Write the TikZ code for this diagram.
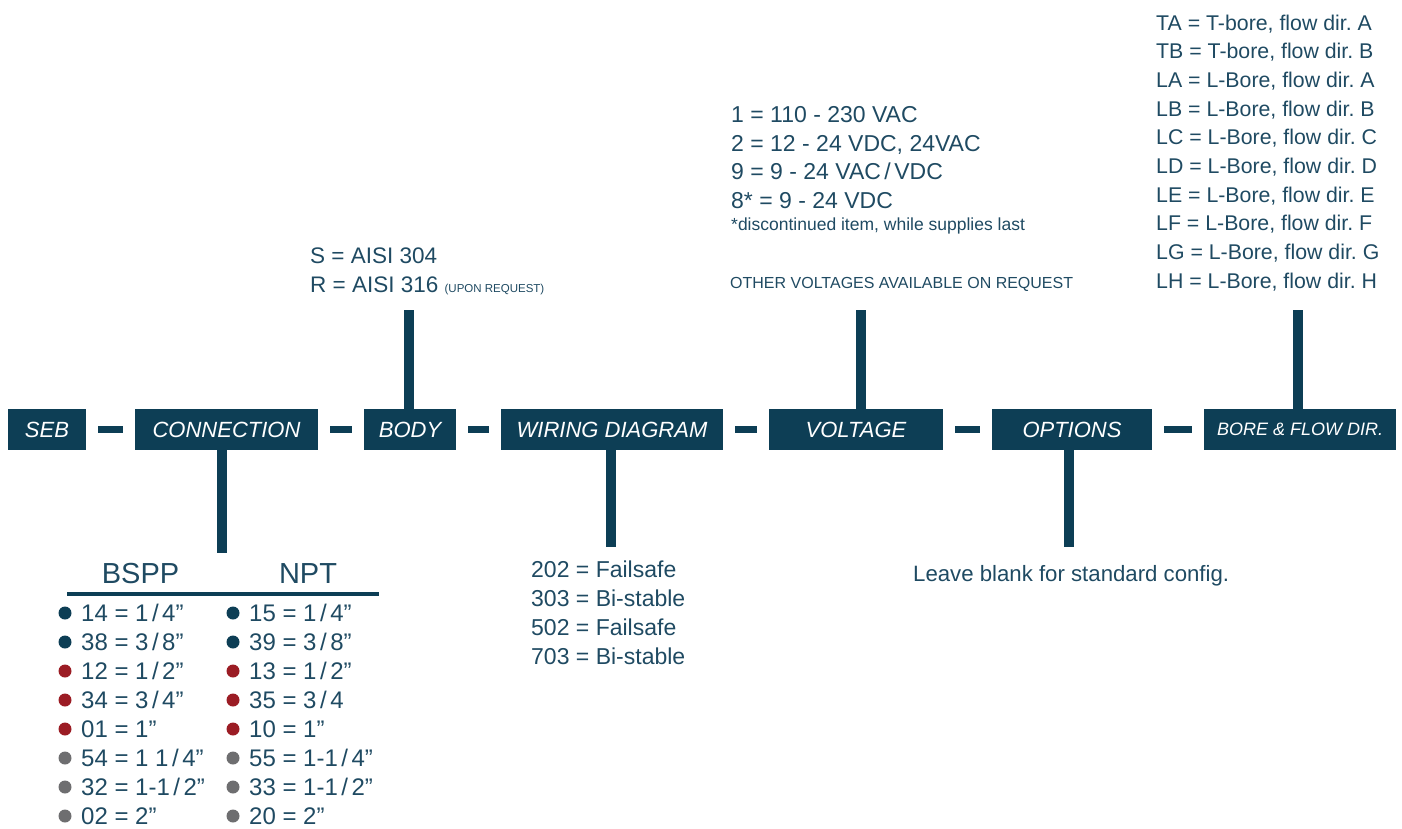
\documentclass[tikz,border=0pt]{standalone}
\usepackage{fontspec}
\setmainfont{Liberation Sans}
\definecolor{navy}{HTML}{0D3E55}
\definecolor{txt}{HTML}{1F4A62}
\definecolor{dotred}{HTML}{9B1C24}
\definecolor{dotgray}{HTML}{6E6E70}
\newcommand{\fsl}{\kern3.5pt/\kern3.5pt}
\frenchspacing
\begin{document}
\begin{tikzpicture}[x=1pt,y=-1pt,
  box/.style={fill=navy,text=white,inner sep=0pt,minimum height=41pt,
    font=\fontsize{22}{22}\selectfont\itshape},
  smallbox/.style={box,font=\fontsize{18}{18}\selectfont\itshape},
  link/.style={draw=navy,line width=7pt,shorten >=12pt,shorten <=12pt},
  stem/.style={draw=navy,line width=10pt},
  lbl/.style={anchor=base west,inner sep=0pt,text=txt,font=\fontsize{22.5}{22.5}\selectfont},
  vlbl/.style={lbl,font=\fontsize{23}{23}\selectfont},
  tlbl/.style={lbl,font=\fontsize{24}{24}\selectfont},
  bore/.style={lbl,font=\fontsize{21.3}{21.3}\selectfont},
  head/.style={anchor=base,inner sep=0pt,text=txt,font=\fontsize{29}{29}\selectfont},
  bullet/.style={circle,inner sep=0pt,outer sep=0pt,minimum size=13pt},
]
\useasboundingbox (0,0) rectangle (1402,828);

% main row of boxes
\node[box,minimum width=78pt]  (seb)  at (47,429.5)   {SEB};
\node[box,minimum width=183pt] (conn) at (226.5,429.5) {CONNECTION};
\node[box,minimum width=92pt]  (body) at (410,429.5)   {BODY};
\node[box,minimum width=222pt] (wire) at (612,429.5)   {WIRING DIAGRAM};
\node[box,minimum width=174pt] (volt) at (856,429.5)   {VOLTAGE};
\node[box,minimum width=160pt] (opt)  at (1072,429.5)  {OPTIONS};
\node[smallbox,minimum width=192pt] (bore) at (1300,429.5) {BORE \& FLOW DIR.};

\draw[link] (seb.east) -- (conn.west);
\draw[link] (conn.east) -- (body.west);
\draw[link] (body.east) -- (wire.west);
\draw[link] (wire.east) -- (volt.west);
\draw[link] (volt.east) -- (opt.west);
\draw[link] (opt.east) -- (bore.west);

% stems
\coordinate (connend) at (221.5,553);
\coordinate (bodyend) at (409,310);
\coordinate (wireend) at (611,547);
\coordinate (voltend) at (861,310);
\coordinate (optend)  at (1069,547);
\coordinate (boreend) at (1298,310);
\draw[stem] (connend |- conn.south) -- (connend);
\draw[stem] (bodyend |- body.north) -- (bodyend);
\draw[stem] (wireend |- wire.south) -- (wireend);
\draw[stem] (voltend |- volt.north) -- (voltend);
\draw[stem] (optend |- opt.south) -- (optend);
\draw[stem] (boreend |- bore.north) -- (boreend);

% BODY options
\node[lbl] (b1) at (310,263) {S = AISI 304};
\node[lbl] (b2) at (310,292) {R = AISI 316 {\fontsize{11.5}{11.5}\selectfont(UPON REQUEST)}};

% VOLTAGE options
\node[vlbl] (v1) at (731,122.3) {1 = 110 - 230 VAC};
\node[vlbl] (v2) at (731,151) {2 = 12 - 24 VDC, 24VAC};
\node[vlbl] (v3) at (731,179.6) {9 = 9 - 24 VAC\fsl VDC};
\node[vlbl] (v4) at (731,208.3) {8* = 9 - 24 VDC};
\node[lbl,font=\fontsize{17.5}{17.5}\selectfont] (v5) at (731,230) {*discontinued item, while supplies last};
\node[lbl,font=\fontsize{16}{16}\selectfont] (v6) at (730,288.3) {OTHER VOLTAGES AVAILABLE ON REQUEST};

% BORE options
\node[bore] (r1)  at (1156,30)    {TA = T-bore, flow dir. A};
\node[bore] (r2)  at (1156,58.7)  {TB = T-bore, flow dir. B};
\node[bore] (r3)  at (1156,87.3)  {LA = L-Bore, flow dir. A};
\node[bore] (r4)  at (1156,116)   {LB = L-Bore, flow dir. B};
\node[bore] (r5)  at (1156,144.7) {LC = L-Bore, flow dir. C};
\node[bore] (r6)  at (1156,173.3) {LD = L-Bore, flow dir. D};
\node[bore] (r7)  at (1156,202)   {LE = L-Bore, flow dir. E};
\node[bore] (r8)  at (1156,230.7) {LF = L-Bore, flow dir. F};
\node[bore] (r9)  at (1156,259.3) {LG = L-Bore, flow dir. G};
\node[bore] (r10) at (1156,288)   {LH = L-Bore, flow dir. H};

% WIRING options
\node[vlbl] (w1) at (531,577) {202 = Failsafe};
\node[vlbl] (w2) at (531,606) {303 = Bi-stable};
\node[vlbl] (w3) at (531,635) {502 = Failsafe};
\node[vlbl] (w4) at (531,664) {703 = Bi-stable};

% OPTIONS
\node[lbl,font=\fontsize{22.2}{22.2}\selectfont] (o1) at (913,581) {Leave blank for standard config.};

% CONNECTION table
\node[head] (bspp) at (140.5,583) {BSPP};
\node[head] (npt)  at (308,583) {NPT};
\coordinate (ruleL) at (67,594);
\coordinate (ruleR) at (379,594);
\draw[navy,line width=4pt] (ruleL) -- (ruleR);

\node[bullet,fill=navy]    (dl1) at (65,613) {};
\node[bullet,fill=navy]    (dl2) at (65,642) {};
\node[bullet,fill=dotred]  (dl3) at (65,671) {};
\node[bullet,fill=dotred]  (dl4) at (65,700) {};
\node[bullet,fill=dotred]  (dl5) at (65,729) {};
\node[bullet,fill=dotgray] (dl6) at (65,758) {};
\node[bullet,fill=dotgray] (dl7) at (65,787) {};
\node[bullet,fill=dotgray] (dl8) at (65,816) {};
\node[bullet,fill=navy]    (dr1) at (233,613) {};
\node[bullet,fill=navy]    (dr2) at (233,642) {};
\node[bullet,fill=dotred]  (dr3) at (233,671) {};
\node[bullet,fill=dotred]  (dr4) at (233,700) {};
\node[bullet,fill=dotred]  (dr5) at (233,729) {};
\node[bullet,fill=dotgray] (dr6) at (233,758) {};
\node[bullet,fill=dotgray] (dr7) at (233,787) {};
\node[bullet,fill=dotgray] (dr8) at (233,816) {};

\node[tlbl] (tl1) at (81,621) {14 = 1\fsl 4”};
\node[tlbl] (tl2) at (81,650) {38 = 3\fsl 8”};
\node[tlbl] (tl3) at (81,679) {12 = 1\fsl 2”};
\node[tlbl] (tl4) at (81,708) {34 = 3\fsl 4”};
\node[tlbl] (tl5) at (81,737) {01 = 1”};
\node[tlbl] (tl6) at (81,766) {54 = 1 1\fsl 4”};
\node[tlbl] (tl7) at (81,795) {32 = 1-1\fsl 2”};
\node[tlbl] (tl8) at (81,824) {02 = 2”};
\node[tlbl] (tr1) at (249,621) {15 = 1\fsl 4”};
\node[tlbl] (tr2) at (249,650) {39 = 3\fsl 8”};
\node[tlbl] (tr3) at (249,679) {13 = 1\fsl 2”};
\node[tlbl] (tr4) at (249,708) {35 = 3\fsl 4};
\node[tlbl] (tr5) at (249,737) {10 = 1”};
\node[tlbl] (tr6) at (249,766) {55 = 1-1\fsl 4”};
\node[tlbl] (tr7) at (249,795) {33 = 1-1\fsl 2”};
\node[tlbl] (tr8) at (249,824) {20 = 2”};
\end{tikzpicture}
\end{document}
